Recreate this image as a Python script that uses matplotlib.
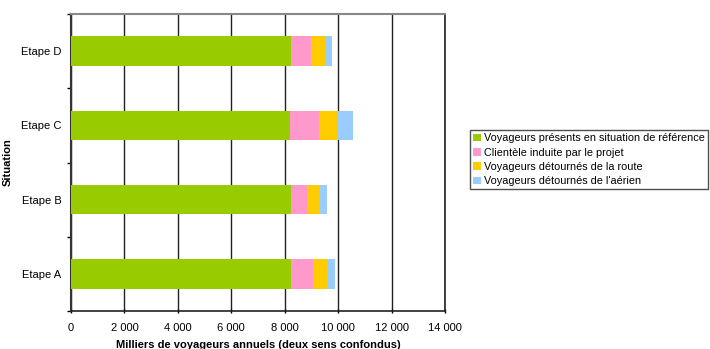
import numpy as np
import matplotlib.pyplot as plt

plt.rcParams['font.family'] = ['Liberation Sans', 'DejaVu Sans']

# Données (milliers de voyageurs annuels)
etapes = ['Etape A', 'Etape B', 'Etape C', 'Etape D']
reference = [8250, 8250, 8210, 8250]
induite = [800, 600, 1080, 720]
route = [520, 450, 650, 520]
aerien = [320, 300, 600, 290]

series = [reference, induite, route, aerien]
noms = ['Voyageurs présents en situation de référence',
        'Clientèle induite par le projet',
        'Voyageurs détournés de la route',
        "Voyageurs détournés de l'aérien"]
couleurs = ['#99cc00', '#ff99cc', '#ffcc00', '#99ccff']

fig = plt.figure(figsize=(7.1, 3.49), dpi=100)
ax = fig.add_axes([71/710, 1 - 311/349, (445 - 71)/710, (311 - 14)/349])

y = np.arange(len(etapes))
gauche = np.zeros(len(etapes))
for vals, nom, c in zip(series, noms, couleurs):
    ax.barh(y, vals, left=gauche, height=0.4, color=c, label=nom, zorder=3)
    gauche += np.array(vals)

ax.set_xlim(0, 14000)
ax.set_ylim(-0.5, 3.5)
xt = np.arange(0, 14001, 2000)
ax.set_xticks(xt)
ax.set_xticklabels([f'{v:,}'.replace(',', ' ') for v in xt], fontsize=8)
ax.set_yticks(y)
ax.set_yticklabels(etapes, fontsize=8)
ax.set_yticks(np.arange(-0.5, 3.6, 1), minor=True)
ax.tick_params(axis='y', which='major', length=0, pad=7)
ax.tick_params(axis='y', which='minor', length=3, width=1, direction='out')
ax.tick_params(axis='x', length=3, width=1, direction='inout', pad=7)

ax.grid(axis='x', color='#222222', linewidth=1, zorder=0)
ax.spines['left'].set_color('#333333')
ax.spines['left'].set_linewidth(1.5)
ax.spines['bottom'].set_color('#222222')
ax.spines['bottom'].set_linewidth(1.2)
ax.spines['top'].set_color('#888888')
ax.spines['top'].set_linewidth(1.5)
ax.spines['right'].set_color('#222222')
ax.spines['right'].set_linewidth(1.2)

ax.set_xlabel('Milliers de voyageurs annuels (deux sens confondus)',
              fontsize=8, fontweight='bold', labelpad=5)
ax.set_ylabel('Situation', fontsize=8, fontweight='bold', labelpad=6)

leg = fig.legend(loc='upper left', bbox_to_anchor=(470/710, 1 - 130/349),
                 fontsize=7.8, frameon=True, fancybox=False,
                 handlelength=0.75, handleheight=0.75, handletextpad=0.25,
                 labelspacing=0.4, borderpad=0.3, borderaxespad=0)
leg.get_frame().set_edgecolor('#222222')
leg.get_frame().set_linewidth(1)

fig.savefig('out.png', dpi=100)
